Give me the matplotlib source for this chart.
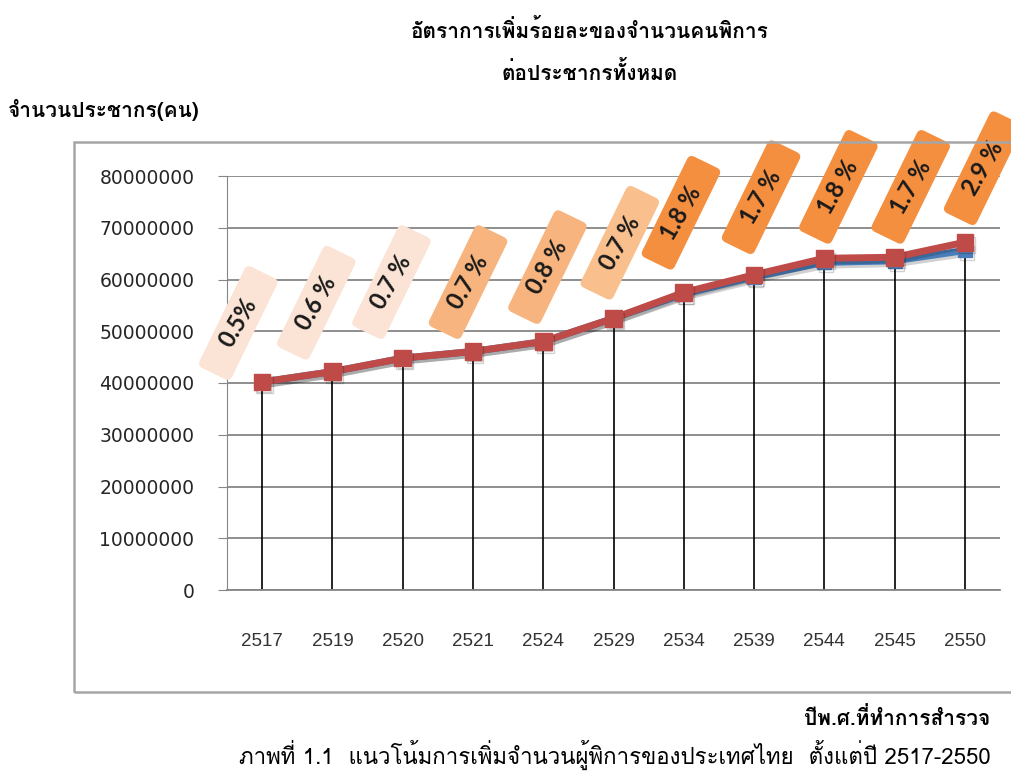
# แนวโน้มการเพิ่มจำนวนผู้พิการของประเทศไทย 2517-2550
import numpy as np
import matplotlib.pyplot as plt
from matplotlib import font_manager
from matplotlib.ft2font import FT2Font
from matplotlib.patches import Rectangle, FancyBboxPatch
from matplotlib.transforms import Affine2D, ScaledTranslation
import matplotlib.patheffects as pe

# หาฟอนต์ที่มีอักษรไทย
thai_font = None
for f in font_manager.fontManager.ttflist:
    try:
        if 0x0E01 in FT2Font(f.fname).get_charmap():
            thai_font = f.name
            break
    except Exception:
        pass
fams = ([thai_font] if thai_font else []) + ['DejaVu Sans']
plt.rcParams['font.family'] = ['Liberation Sans', 'DejaVu Sans']

# ข้อมูล
years = ['2517', '2519', '2520', '2521', '2524', '2529', '2534', '2539', '2544', '2545', '2550']
pop_red = [40.2, 42.2, 44.8, 46.1, 48.0, 52.5, 57.5, 60.9, 64.1, 64.3, 67.2]   # ล้านคน
pop_blue = [40.2, 42.2, 44.8, 46.1, 48.0, 52.5, 57.2, 60.5, 63.3, 63.6, 65.6]
rates = ['0.5%', '0.6 %', '0.7 %', '0.7 %', '0.8 %', '0.7 %', '1.8 %', '1.7 %', '1.8 %', '1.7 %', '2.9 %']

# ตำแหน่งป้าย (เลื่อนจากจุด)
lab_dx = [-0.34, -0.23, -0.16, -0.07, 0.06, 0.09, -0.04, 0.1, 0.2, 0.23, 0.26]
lab_y = [51.6, 55.5, 59.5, 59.5, 62.4, 67.1, 72.9, 75.9, 77.9, 77.9, 81.5]
lab_col = ['#fbe4d5', '#fbe4d5', '#fbe4d5', '#f7b47e', '#f7b47e', '#f9bf8d',
           '#f58f40', '#f58f40', '#f58f40', '#f58f40', '#f58f40']

red = np.array(pop_red) * 1e6
blue = np.array(pop_blue) * 1e6
x = np.arange(len(years))

fig = plt.figure(figsize=(10.11, 7.80), dpi=100)
fig.patches.append(Rectangle((74 / 1011, 1 - 692 / 780), 0.95, 550 / 780,
                             transform=fig.transFigure, fill=False,
                             edgecolor='#a6a6a6', lw=1.8))
ax = fig.add_axes([227 / 1011, 1 - 590 / 780, 773 / 1011, 414 / 780])

ax.set_xlim(-0.5, len(years) - 0.5)
ax.set_ylim(0, 80000000)
ax.set_yticks(np.arange(0, 80000001, 10000000))
ax.set_yticklabels([str(v) for v in range(0, 80000001, 10000000)], family='DejaVu Sans')
ax.yaxis.grid(True, color='#868686', lw=1.3)
ax.set_axisbelow(True)
for s in ['top', 'right']:
    ax.spines[s].set_visible(False)
ax.spines['left'].set_color('#868686')
ax.spines['bottom'].set_color('#868686')
ax.spines['bottom'].set_linewidth(1.3)
ax.tick_params(axis='y', length=6.5, color='#868686', pad=17, labelsize=13.5, labelcolor='#262626')
ax.set_xticks(x)
ax.set_xticklabels(years)
ax.tick_params(axis='x', length=0, pad=31, labelsize=13.5, labelcolor='#333333')

# เส้นดิ่งจากจุดลงแกน
ax.vlines(x, 0, red, color='black', lw=1.2, zorder=2)

shadow = [pe.SimpleLineShadow(offset=(1.5, -2), alpha=0.18), pe.Normal()]
ax.plot(x, blue, color='#4a7ebb', lw=5, marker='s', ms=10, zorder=3, path_effects=shadow)
ax.plot(x, red, color='#be4b48', lw=5, marker='s', ms=12, zorder=4, path_effects=shadow)

# ป้ายร้อยละ: กล่องเอียงหมุน
box_l, box_s = 81, 26   # points
for i in range(len(years)):
    xc, yc = x[i] + lab_dx[i], lab_y[i] * 1e6
    tr = (Affine2D().rotate_deg(64).scale(fig.dpi / 72)
          + ScaledTranslation(xc, yc, ax.transData))
    box = FancyBboxPatch((-box_l / 2, -box_s / 2), box_l, box_s,
                         boxstyle='round,pad=0,rounding_size=4',
                         fc=lab_col[i], ec='none', transform=tr, clip_on=False, zorder=5)
    ax.add_patch(box)
    ax.text(xc, yc, rates[i], rotation=60, ha='center', va='center',
            rotation_mode='anchor', fontsize=17, family=['Lato', 'DejaVu Sans'],
            fontweight='bold', color='#1a1a1a', clip_on=False, zorder=6)

fig.text(590 / 1011, 1 - 30 / 780, 'อัตราการเพิ่มร้อยละของจำนวนคนพิการ', family=fams,
         fontsize=15, fontweight='bold', ha='center', va='center')
fig.text(590 / 1011, 1 - 72 / 780, 'ต่อประชากรทั้งหมด', family=fams,
         fontsize=15, fontweight='bold', ha='center', va='center')
fig.text(8 / 1011, 1 - 110 / 780, 'จำนวนประชากร(คน)', family=fams,
         fontsize=15, fontweight='bold', ha='left', va='center')
fig.text(990 / 1011, 1 - 718 / 780, 'ปีพ.ศ.ที่ทำการสำรวจ', family=fams,
         fontsize=15, fontweight='bold', ha='right', va='center')
fig.text(615 / 1011, 1 - 755 / 780,
         'ภาพที่ 1.1  แนวโน้มการเพิ่มจำนวนผู้พิการของประเทศไทย  ตั้งแต่ปี 2517-2550',
         family=fams, fontsize=16, ha='center', va='center')

plt.savefig('out.png', dpi=100)
